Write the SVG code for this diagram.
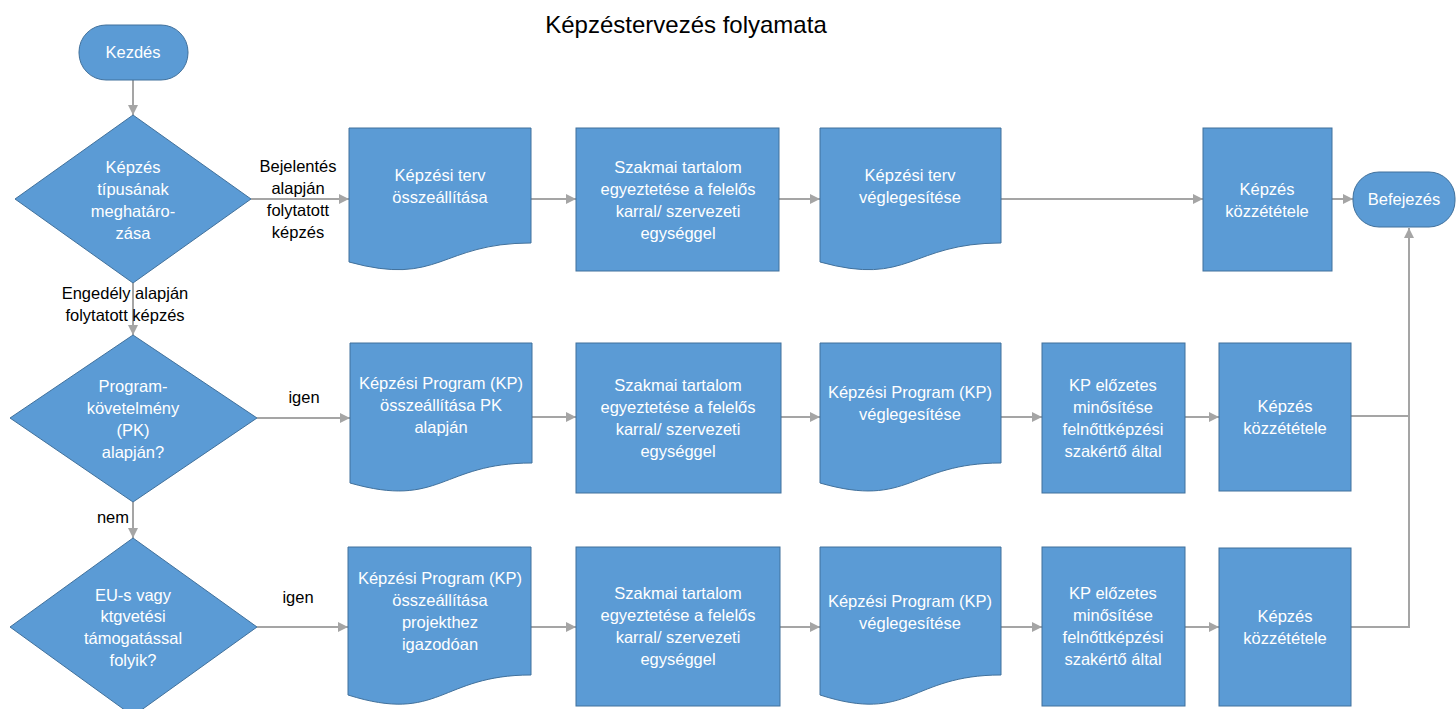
<svg xmlns="http://www.w3.org/2000/svg" width="1456" height="709" viewBox="0 0 1456 709">
<style>
.n{fill:#5B9BD5;stroke:#41719C;stroke-width:1}
.t{font-family:"Liberation Sans",Arial,sans-serif;font-size:16.5px;fill:#FFFFFF;text-anchor:middle;dominant-baseline:central}
.l{font-family:"Liberation Sans",Arial,sans-serif;font-size:16.5px;fill:#000000;text-anchor:middle;dominant-baseline:central}
.c{fill:none;stroke:#A5A5A5;stroke-width:2}
</style>
<defs>
<marker id="ah" markerUnits="userSpaceOnUse" markerWidth="10" markerHeight="10" refX="10" refY="5" orient="auto">
<path d="M0,0 L10,5 L0,10 Z" fill="#A5A5A5"/>
</marker>
</defs>
<rect width="1456" height="709" fill="#FFFFFF"/>
<text x="686" y="24" style="font-family:'Liberation Sans',Arial,sans-serif;font-size:24px;fill:#000;text-anchor:middle;dominant-baseline:central">Képzéstervezés folyamata</text>

<g id="connectors">
<path class="c" d="M133,80 V115" marker-end="url(#ah)"/>
<path class="c" d="M133,283 V335" marker-end="url(#ah)"/>
<path class="c" d="M251,199 H349" marker-end="url(#ah)"/>
<path class="c" d="M531,199 H576" marker-end="url(#ah)"/>
<path class="c" d="M779,199 H820" marker-end="url(#ah)"/>
<path class="c" d="M1001,199 H1203" marker-end="url(#ah)"/>
<path class="c" d="M1332,199 H1353" marker-end="url(#ah)"/>
<path class="c" d="M257,418 H350" marker-end="url(#ah)"/>
<path class="c" d="M532,417 H576" marker-end="url(#ah)"/>
<path class="c" d="M781,417 H820" marker-end="url(#ah)"/>
<path class="c" d="M1001,417 H1042" marker-end="url(#ah)"/>
<path class="c" d="M1185,417 H1219" marker-end="url(#ah)"/>
<path class="c" d="M1351,416 H1409"/>
<path class="c" d="M133,502 V538" marker-end="url(#ah)"/>
<path class="c" d="M257,627 H348" marker-end="url(#ah)"/>
<path class="c" d="M531,627 H576" marker-end="url(#ah)"/>
<path class="c" d="M780,627 H820" marker-end="url(#ah)"/>
<path class="c" d="M1001,627 H1042" marker-end="url(#ah)"/>
<path class="c" d="M1185,627 H1219" marker-end="url(#ah)"/>
<path class="c" d="M1351,627 H1409 V228" marker-end="url(#ah)"/>
</g>

<g id="labels">
<text class="l" x="298" y="166">Bejelentés</text>
<text class="l" x="298" y="188">alapján</text>
<text class="l" x="298" y="210">folytatott</text>
<text class="l" x="298" y="232">képzés</text>
<text class="l" x="125" y="293">Engedély alapján</text>
<text class="l" x="125" y="315">folytatott képzés</text>
<text class="l" x="304" y="397">igen</text>
<text class="l" x="113" y="517">nem</text>
<text class="l" x="298" y="597">igen</text>
</g>

<g id="start">
<rect class="n" x="79" y="25" width="109" height="55" rx="27" ry="27"/>
<text class="t" x="133" y="52">Kezdés</text>
</g>

<g id="decision1">
<path class="n" d="M133,115 L251,199 L133,283 L15,199 Z"/>
<text class="t" x="133" y="167">Képzés</text>
<text class="t" x="133" y="189">típusának</text>
<text class="t" x="133" y="211">meghatáro-</text>
<text class="t" x="133" y="233">zása</text>
</g>

<g id="doc1">
<path class="n" d="M349,128 H531 V243 C440,243 440,287 349,262 Z"/>
<text class="t" x="440" y="175">Képzési terv</text>
<text class="t" x="440" y="197">összeállítása</text>
</g>

<g id="box1">
<rect class="n" x="576" y="128" width="203" height="143"/>
<text class="t" x="678" y="167">Szakmai tartalom</text>
<text class="t" x="678" y="189">egyeztetése a felelős</text>
<text class="t" x="678" y="211">karral/ szervezeti</text>
<text class="t" x="678" y="233">egységgel</text>
</g>

<g id="doc2">
<path class="n" d="M820,128 H1001 V243 C910,243 910,287 820,262 Z"/>
<text class="t" x="910" y="175">Képzési terv</text>
<text class="t" x="910" y="197">véglegesítése</text>
</g>

<g id="publish1">
<rect class="n" x="1203" y="128" width="129" height="143"/>
<text class="t" x="1267" y="189">Képzés</text>
<text class="t" x="1267" y="211">közzététele</text>
</g>

<g id="end">
<rect class="n" x="1353" y="172" width="102" height="55" rx="26" ry="26"/>
<text class="t" x="1404" y="199">Befejezés</text>
</g>

<g id="decision2">
<path class="n" d="M133,335 L257,418 L133,502 L10,418 Z"/>
<text class="t" x="133" y="386">Program-</text>
<text class="t" x="133" y="408">követelmény</text>
<text class="t" x="133" y="430">(PK)</text>
<text class="t" x="133" y="452">alapján?</text>
</g>

<g id="doc3">
<path class="n" d="M350,343 H532 V463 C441,463 441,509 350,483 Z"/>
<text class="t" x="441" y="383">Képzési Program (KP)</text>
<text class="t" x="441" y="405">összeállítása PK</text>
<text class="t" x="441" y="427">alapján</text>
</g>

<g id="box2">
<rect class="n" x="576" y="343" width="205" height="150"/>
<text class="t" x="678" y="385">Szakmai tartalom</text>
<text class="t" x="678" y="407">egyeztetése a felelős</text>
<text class="t" x="678" y="429">karral/ szervezeti</text>
<text class="t" x="678" y="451">egységgel</text>
</g>

<g id="doc4">
<path class="n" d="M820,343 H1001 V463 C910,463 910,509 820,483 Z"/>
<text class="t" x="910" y="392">Képzési Program (KP)</text>
<text class="t" x="910" y="414">véglegesítése</text>
</g>

<g id="qual1">
<rect class="n" x="1042" y="343" width="143" height="150"/>
<text class="t" x="1113" y="385">KP előzetes</text>
<text class="t" x="1113" y="407">minősítése</text>
<text class="t" x="1113" y="429">felnőttképzési</text>
<text class="t" x="1113" y="451">szakértő által</text>
</g>

<g id="publish2">
<rect class="n" x="1219" y="343" width="132" height="148"/>
<text class="t" x="1285" y="406">Képzés</text>
<text class="t" x="1285" y="428">közzététele</text>
</g>

<g id="decision3">
<path class="n" d="M133,538 L257,627 L133,716 L10,627 Z"/>
<text class="t" x="133" y="595">EU-s vagy</text>
<text class="t" x="133" y="616">ktgvetési</text>
<text class="t" x="133" y="638">támogatással</text>
<text class="t" x="133" y="660">folyik?</text>
</g>

<g id="doc5">
<path class="n" d="M348,547 H531 V675 C440,675 440,724 348,695 Z"/>
<text class="t" x="440" y="578">Képzési Program (KP)</text>
<text class="t" x="440" y="600">összeállítása</text>
<text class="t" x="440" y="622">projekthez</text>
<text class="t" x="440" y="644">igazodóan</text>
</g>

<g id="box3">
<rect class="n" x="576" y="547" width="204" height="159"/>
<text class="t" x="678" y="593">Szakmai tartalom</text>
<text class="t" x="678" y="615">egyeztetése a felelős</text>
<text class="t" x="678" y="637">karral/ szervezeti</text>
<text class="t" x="678" y="659">egységgel</text>
</g>

<g id="doc6">
<path class="n" d="M820,547 H1001 V675 C910,675 910,724 820,695 Z"/>
<text class="t" x="910" y="601">Képzési Program (KP)</text>
<text class="t" x="910" y="623">véglegesítése</text>
</g>

<g id="qual2">
<rect class="n" x="1042" y="547" width="143" height="159"/>
<text class="t" x="1113" y="593">KP előzetes</text>
<text class="t" x="1113" y="615">minősítése</text>
<text class="t" x="1113" y="637">felnőttképzési</text>
<text class="t" x="1113" y="659">szakértő által</text>
</g>

<g id="publish3">
<rect class="n" x="1219" y="548" width="132" height="158"/>
<text class="t" x="1285" y="616">Képzés</text>
<text class="t" x="1285" y="638">közzététele</text>
</g>
</svg>
